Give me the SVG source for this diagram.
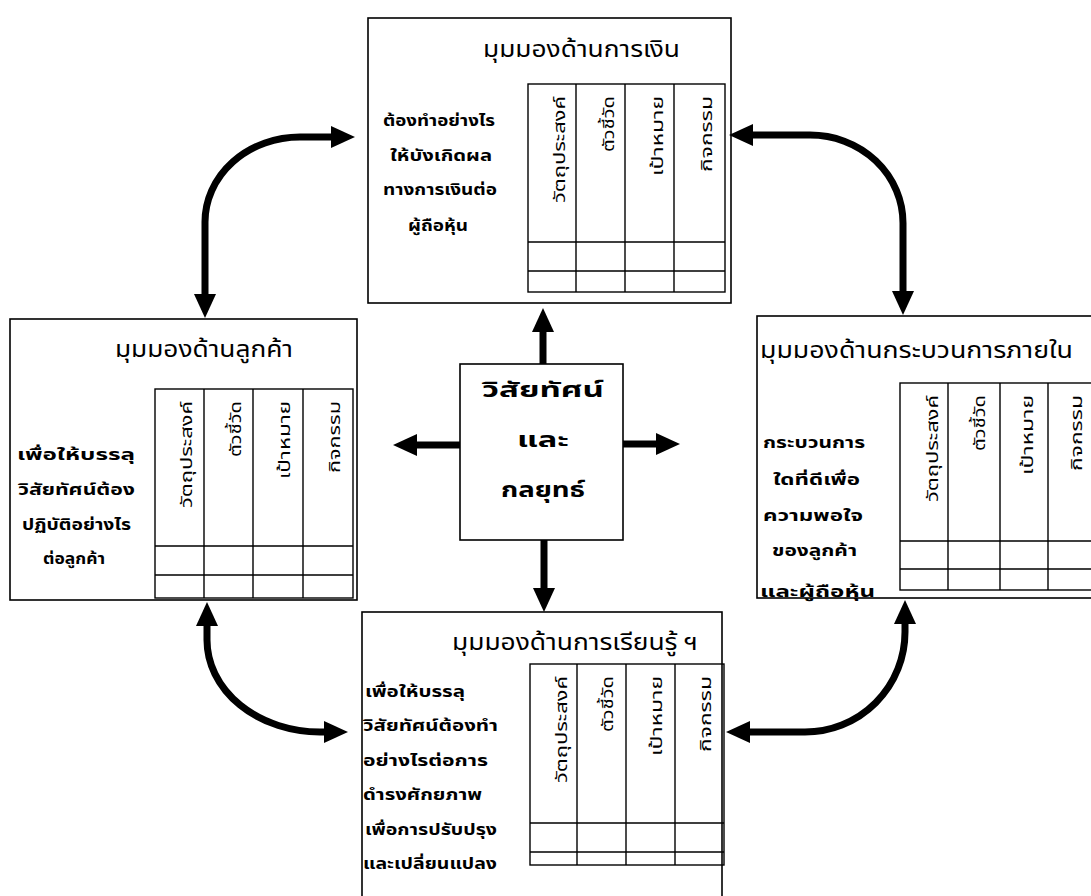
<svg xmlns="http://www.w3.org/2000/svg" width="1091" height="896" viewBox="0 0 1091 896">
  <defs>
    <marker id="head" markerUnits="userSpaceOnUse" markerWidth="26" markerHeight="24" refX="0" refY="12" orient="auto-start-reverse" viewBox="0 0 26 24">
      <path d="M0,1 L24,12 L0,23 Z" fill="#000"/>
    </marker>
    <style>
      text { font-family: "Noto Sans Thai", "Noto Sans", "DejaVu Sans", sans-serif; fill: #000; }
      .box { fill: #fff; stroke: #000; stroke-width: 1.6; }
      .grid { fill: none; stroke: #000; stroke-width: 1.4; }
      .title { font-size: 23px; }
      .side { font-size: 15px; font-weight: bold; }
      .col { font-size: 16px; text-anchor: end; }
      .core { font-size: 21px; font-weight: bold; text-anchor: middle; }
      .link { fill: none; stroke: #000; stroke-width: 7; marker-end: url(#head); }
      .both { marker-start: url(#head); }
    </style>
  </defs>
  <rect width="1091" height="896" fill="#fff"/>

  <!-- Financial perspective -->
  <g id="financial">
    <rect class="box" x="368" y="18" width="363" height="285"/>
    <text class="title" x="483" y="57" textLength="197" lengthAdjust="spacingAndGlyphs">มุมมองด้านการเงิน</text>
    <text class="side" x="383" y="126" textLength="112" lengthAdjust="spacingAndGlyphs">ต้องทำอย่างไร</text>
    <text class="side" x="390" y="161" textLength="102" lengthAdjust="spacingAndGlyphs">ให้บังเกิดผล</text>
    <text class="side" x="383" y="195" textLength="114" lengthAdjust="spacingAndGlyphs">ทางการเงินต่อ</text>
    <text class="side" x="408" y="231" textLength="60" lengthAdjust="spacingAndGlyphs">ผู้ถือหุ้น</text>
    <rect class="grid" x="528" y="84" width="197" height="208"/>
    <path class="grid" d="M576,84V292M625,84V292M674,84V292M528,242H725M528,271H725"/>
    <text class="col" transform="translate(565,96) rotate(-90)" textLength="107" lengthAdjust="spacingAndGlyphs">วัตถุประสงค์</text>
    <text class="col" transform="translate(614,96) rotate(-90)" textLength="56" lengthAdjust="spacingAndGlyphs">ตัวชี้วัด</text>
    <text class="col" transform="translate(663,96) rotate(-90)" textLength="80" lengthAdjust="spacingAndGlyphs">เป้าหมาย</text>
    <text class="col" transform="translate(712,96) rotate(-90)" textLength="76" lengthAdjust="spacingAndGlyphs">กิจกรรม</text>
  </g>

  <!-- Customer perspective -->
  <g id="customer">
    <rect class="box" x="10" y="319" width="347" height="281"/>
    <text class="title" x="115" y="357" textLength="178" lengthAdjust="spacingAndGlyphs">มุมมองด้านลูกค้า</text>
    <text class="side" x="17" y="460" textLength="118" lengthAdjust="spacingAndGlyphs">เพื่อให้บรรลุ</text>
    <text class="side" x="18" y="495" textLength="117" lengthAdjust="spacingAndGlyphs">วิสัยทัศน์ต้อง</text>
    <text class="side" x="22" y="530" textLength="109" lengthAdjust="spacingAndGlyphs">ปฏิบัติอย่างไร</text>
    <text class="side" x="43" y="564" textLength="62" lengthAdjust="spacingAndGlyphs">ต่อลูกค้า</text>
    <rect class="grid" x="155" y="389" width="198" height="209"/>
    <path class="grid" d="M204,389V598M253,389V598M303,389V598M155,546H353M155,575H353"/>
    <text class="col" transform="translate(192,401) rotate(-90)" textLength="107" lengthAdjust="spacingAndGlyphs">วัตถุประสงค์</text>
    <text class="col" transform="translate(241,401) rotate(-90)" textLength="56" lengthAdjust="spacingAndGlyphs">ตัวชี้วัด</text>
    <text class="col" transform="translate(290,401) rotate(-90)" textLength="78" lengthAdjust="spacingAndGlyphs">เป้าหมาย</text>
    <text class="col" transform="translate(340,401) rotate(-90)" textLength="72" lengthAdjust="spacingAndGlyphs">กิจกรรม</text>
  </g>

  <!-- Internal process perspective -->
  <g id="internal">
    <rect class="box" x="757" y="316" width="350" height="282"/>
    <text class="title" x="760" y="358" textLength="313" lengthAdjust="spacingAndGlyphs">มุมมองด้านกระบวนการภายใน</text>
    <text class="side" x="763" y="448" textLength="102" lengthAdjust="spacingAndGlyphs">กระบวนการ</text>
    <text class="side" x="773" y="485" textLength="87" lengthAdjust="spacingAndGlyphs">ใดที่ดีเพื่อ</text>
    <text class="side" x="763" y="521" textLength="100" lengthAdjust="spacingAndGlyphs">ความพอใจ</text>
    <text class="side" x="772" y="556" textLength="85" lengthAdjust="spacingAndGlyphs">ของลูกค้า</text>
    <text class="side" x="760" y="597" textLength="115" lengthAdjust="spacingAndGlyphs">และผู้ถือหุ้น</text>
    <rect class="grid" x="900" y="383" width="197" height="207"/>
    <path class="grid" d="M948,383V590M1000,383V590M1048,383V590M900,541H1097M900,569H1097"/>
    <text class="col" transform="translate(938,395) rotate(-90)" textLength="107" lengthAdjust="spacingAndGlyphs">วัตถุประสงค์</text>
    <text class="col" transform="translate(985,395) rotate(-90)" textLength="56" lengthAdjust="spacingAndGlyphs">ตัวชี้วัด</text>
    <text class="col" transform="translate(1033,395) rotate(-90)" textLength="80" lengthAdjust="spacingAndGlyphs">เป้าหมาย</text>
    <text class="col" transform="translate(1082,395) rotate(-90)" textLength="76" lengthAdjust="spacingAndGlyphs">กิจกรรม</text>
  </g>

  <!-- Learning and growth perspective -->
  <g id="learning">
    <rect class="box" x="362" y="612" width="360" height="300"/>
    <text class="title" x="452" y="650" textLength="246" lengthAdjust="spacingAndGlyphs">มุมมองด้านการเรียนรู้ ฯ</text>
    <text class="side" x="365" y="697" textLength="100" lengthAdjust="spacingAndGlyphs">เพื่อให้บรรลุ</text>
    <text class="side" x="363" y="731" textLength="135" lengthAdjust="spacingAndGlyphs">วิสัยทัศน์ต้องทำ</text>
    <text class="side" x="363" y="766" textLength="125" lengthAdjust="spacingAndGlyphs">อย่างไรต่อการ</text>
    <text class="side" x="363" y="800" textLength="119" lengthAdjust="spacingAndGlyphs">ดำรงศักยภาพ</text>
    <text class="side" x="365" y="835" textLength="132" lengthAdjust="spacingAndGlyphs">เพื่อการปรับปรุง</text>
    <text class="side" x="363" y="869" textLength="134" lengthAdjust="spacingAndGlyphs">และเปลี่ยนแปลง</text>
    <rect class="grid" x="530" y="664" width="194" height="201"/>
    <path class="grid" d="M577,664V865M626,664V865M675,664V865M530,823H724M530,852H724"/>
    <text class="col" transform="translate(567,676) rotate(-90)" textLength="107" lengthAdjust="spacingAndGlyphs">วัตถุประสงค์</text>
    <text class="col" transform="translate(613,676) rotate(-90)" textLength="56" lengthAdjust="spacingAndGlyphs">ตัวชี้วัด</text>
    <text class="col" transform="translate(662,676) rotate(-90)" textLength="80" lengthAdjust="spacingAndGlyphs">เป้าหมาย</text>
    <text class="col" transform="translate(711,676) rotate(-90)" textLength="76" lengthAdjust="spacingAndGlyphs">กิจกรรม</text>
  </g>

  <!-- Vision and strategy core -->
  <g id="core">
    <rect class="box" x="460" y="364" width="163" height="176"/>
    <text class="core" x="543" y="397" textLength="122" lengthAdjust="spacingAndGlyphs">วิสัยทัศน์</text>
    <text class="core" x="543" y="447" textLength="52" lengthAdjust="spacingAndGlyphs">และ</text>
    <text class="core" x="543" y="497" textLength="84" lengthAdjust="spacingAndGlyphs">กลยุทธ์</text>
  </g>

  <!-- Connectors -->
  <g id="connectors">
    <path class="link" d="M543,364 L543,332"/>
    <path class="link" d="M544,540 L544,588"/>
    <path class="link" d="M623,444 L656,444"/>
    <path class="link" d="M460,445 L417,445"/>
    <path class="link both" d="M205,294 L205,222 A95,85 0 0 1 300,137 L331,137"/>
    <path class="link both" d="M753,135 L810,135 A93,88 0 0 1 903,223 L903,291"/>
    <path class="link both" d="M207,626 L207,640 A113,92 0 0 0 320,732 L324,732"/>
    <path class="link both" d="M905,624 L905,632 A100,100 0 0 1 805,732 L750,732"/>
  </g>
</svg>
